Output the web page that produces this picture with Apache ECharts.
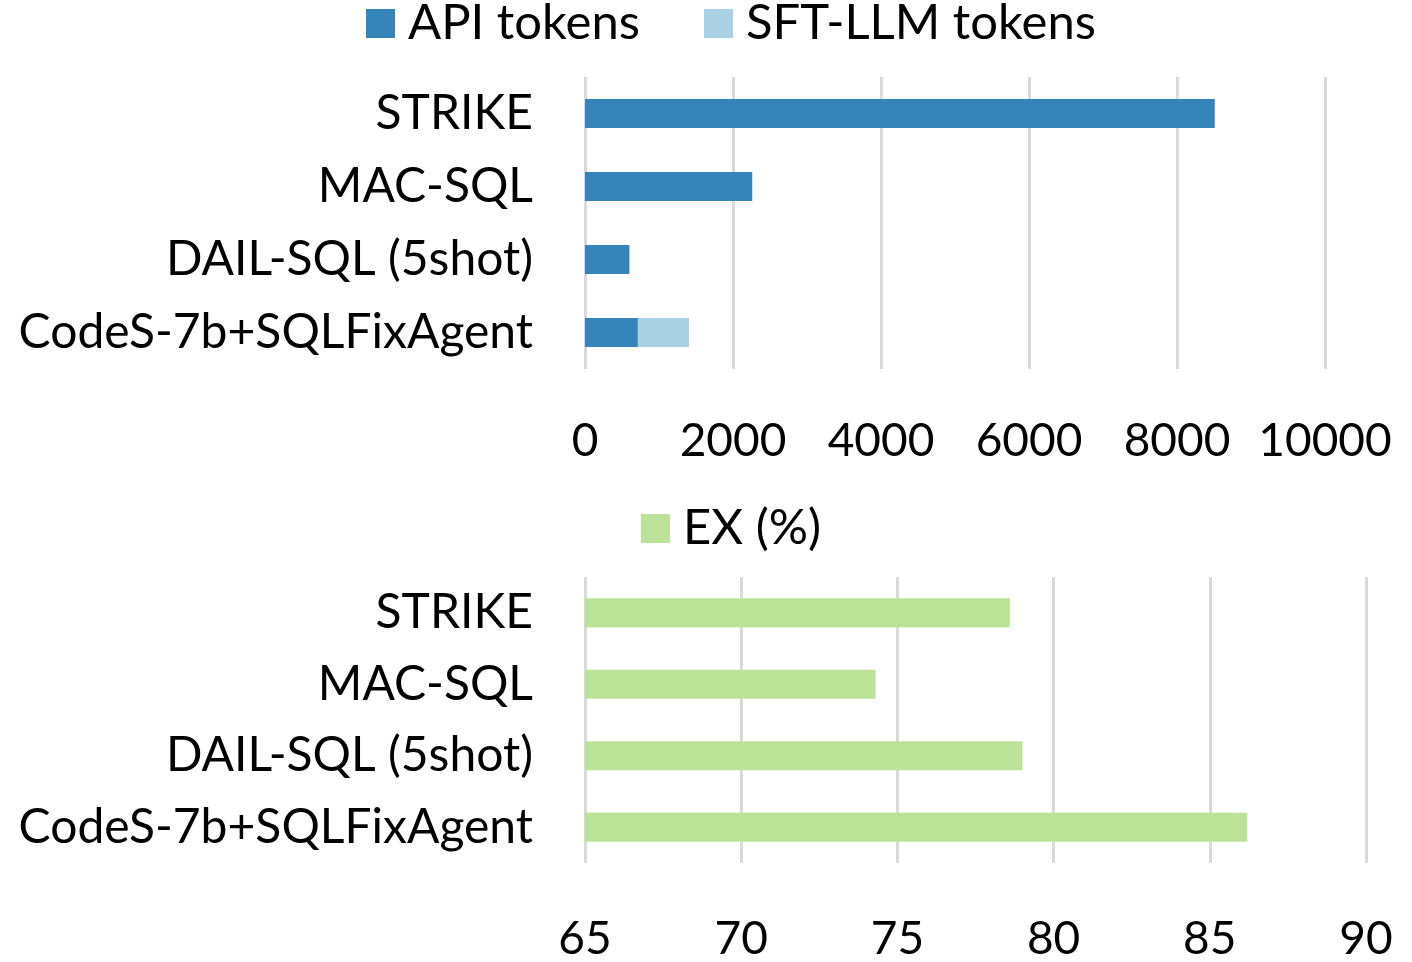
<!DOCTYPE html>
<html>
<head>
<meta charset="utf-8">
<script src="https://cdn.jsdelivr.net/npm/echarts@6/dist/echarts.min.js"></script>
<style>
  html, body { margin: 0; padding: 0; background: #fff; }
  #chart { width: 1412px; height: 962px; }
</style>
</head>
<body>
<div id="chart"></div>
<script>
const methods = ['STRIKE', 'MAC-SQL', 'DAIL-SQL (5shot)', 'CodeS-7b+SQLFixAgent']
const apiTokens = [8510, 2260, 600, 715]
const sftTokens = [0, 0, 0, 690]
const exScores = [78.6, 74.3, 79.0, 86.2]
const tokenTicks = [0, 2000, 4000, 6000, 8000, 10000]
const exTicks = [65, 70, 75, 80, 85, 90]

const FONT = 'Lato'
const gridColor = '#d9d9d9'

const chart = echarts.init(document.getElementById('chart'))

function valueAxis(gridIndex, ticks, margin) {
  return {
    type: 'value',
    gridIndex: gridIndex,
    min: ticks[0],
    max: ticks[ticks.length - 1],
    interval: ticks[1] - ticks[0],
    axisLine: { show: false },
    axisTick: { show: false },
    splitLine: { show: true, lineStyle: { color: gridColor, width: 3 } },
    axisLabel: {
      fontFamily: FONT, fontSize: 46, color: '#000', margin: margin,
      formatter: v => String(v)
    }
  }
}

function catAxis(gridIndex) {
  return {
    type: 'category',
    gridIndex: gridIndex,
    inverse: true,
    data: methods,
    axisLine: { show: false },
    axisTick: { show: false },
    splitLine: { show: false },
    axisLabel: { fontFamily: FONT, fontSize: 48, color: '#000', margin: 52 }
  }
}

chart.setOption({
  animation: false,
  backgroundColor: '#fff',
  legend: [
    {
      data: ['API tokens', 'SFT-LLM tokens'],
      left: 361,
      top: -6,
      icon: 'rect',
      itemWidth: 29,
      itemHeight: 29,
      itemGap: 64,
      textStyle: { fontFamily: FONT, fontSize: 49, color: '#000', padding: [0, 0, 0, 8] }
    },
    {
      data: ['EX (%)'],
      left: 636,
      top: 499,
      icon: 'rect',
      itemWidth: 29,
      itemHeight: 29,
      textStyle: { fontFamily: FONT, fontSize: 49, color: '#000', padding: [0, 0, 0, 8] }
    }
  ],
  grid: [
    { left: 585, width: 740, top: 77, height: 292 },
    { left: 585, width: 781, top: 577, height: 291 }
  ],
  xAxis: [
    valueAxis(0, tokenTicks, 49),
    valueAxis(1, exTicks, 53)
  ],
  yAxis: [
    catAxis(0),
    catAxis(1)
  ],
  series: [
    {
      name: 'API tokens',
      type: 'bar',
      stack: 'tokens',
      xAxisIndex: 0,
      yAxisIndex: 0,
      barWidth: 29,
      itemStyle: { color: '#3585bb' },
      data: apiTokens
    },
    {
      name: 'SFT-LLM tokens',
      type: 'bar',
      stack: 'tokens',
      xAxisIndex: 0,
      yAxisIndex: 0,
      barWidth: 29,
      itemStyle: { color: '#abd1e5' },
      data: sftTokens
    },
    {
      name: 'EX (%)',
      type: 'bar',
      xAxisIndex: 1,
      yAxisIndex: 1,
      barWidth: 29,
      itemStyle: { color: '#bce297' },
      data: exScores
    }
  ]
})
</script>
</body>
</html>
